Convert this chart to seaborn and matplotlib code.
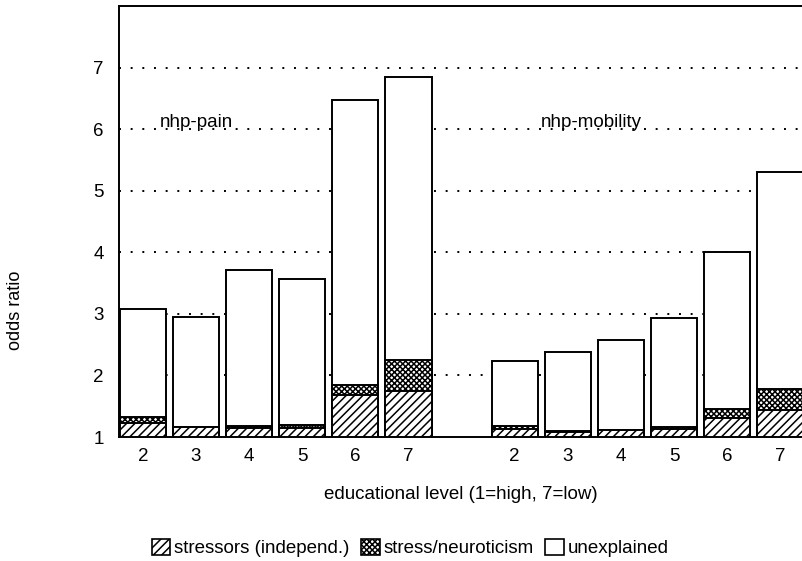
import matplotlib
matplotlib.use("Agg")
import matplotlib.pyplot as plt
import seaborn as sns
import pandas as pd
from matplotlib.patches import Patch

# ---- data ----
edu_levels = [2, 3, 4, 5, 6, 7]
groups = ["nhp-pain", "nhp-mobility"]
# cumulative tops of the stacked segments (odds ratio scale, base = 1)
pain_total = [3.08, 2.95, 3.72, 3.57, 6.48, 6.85]
pain_neuro_top = [1.33, 1.16, 1.18, 1.19, 1.85, 2.25]
pain_stressors_top = [1.23, 1.16, 1.15, 1.15, 1.68, 1.75]
mob_total = [2.24, 2.38, 2.58, 2.93, 4.00, 5.31]
mob_neuro_top = [1.18, 1.09, 1.12, 1.17, 1.46, 1.78]
mob_stressors_top = [1.13, 1.08, 1.11, 1.13, 1.31, 1.44]
y_ticks = [1, 2, 3, 4, 5, 6, 7]
legend_labels = ["stressors (independ.)", "stress/neuroticism", "unexplained"]

rows = []
for gi, (tot, neu, strs) in enumerate([(pain_total, pain_neuro_top, pain_stressors_top),
                                        (mob_total, mob_neuro_top, mob_stressors_top)]):
    for k, e in enumerate(edu_levels):
        rows.append(dict(group=groups[gi], edu=e, pos=k + gi * (len(edu_levels) + 1),
                         total=tot[k], neuro=neu[k], stressors=strs[k]))
df = pd.DataFrame(rows)

sns.set_theme(style="white")
plt.rcParams["font.family"] = ["Liberation Sans", "DejaVu Sans"]
plt.rcParams["hatch.linewidth"] = 1.1
plt.rcParams["text.color"] = "black"
plt.rcParams["axes.labelcolor"] = "black"
plt.rcParams["xtick.color"] = "black"
plt.rcParams["ytick.color"] = "black"

W, H = 802, 561
fig = plt.figure(figsize=(W / 100, H / 100), dpi=100)
ax = fig.add_axes([119 / W, 1 - 437 / H, 1 - 119 / W, (437 - 6) / H])

# dotted gridlines behind bars
for v in y_ticks[1:]:
    ax.axhline(v, color="black", lw=1.4, ls=(0, (1, 5)), zorder=0.5)

bar_kw = dict(native_scale=True, width=0.87, edgecolor="black", linewidth=1.4,
              errorbar=None, ax=ax, zorder=2)
sns.barplot(data=df, x="pos", y="total", color="white", **bar_kw)
sns.barplot(data=df, x="pos", y="neuro", color="white", hatch="xxxxxx", **bar_kw)
sns.barplot(data=df, x="pos", y="stressors", color="white", hatch="////", **bar_kw)

ax.set_xlim(-0.45, 12.41)
ax.set_ylim(1.0, 8.0)
ax.set_xticks(df["pos"])
ax.set_xticklabels([str(e) for e in df["edu"]], fontsize=13.5)
ax.set_yticks(y_ticks)
ax.set_yticklabels([str(v) for v in y_ticks], fontsize=13.5)
ax.tick_params(axis="both", length=0, colors="black")
ax.tick_params(axis="y", pad=11)
ax.tick_params(axis="x", pad=8)
ax.set_ylabel("")
ax.set_xlabel("educational level (1=high, 7=low)", fontsize=13.5, labelpad=15,
              color="black")

for s in ["left", "bottom", "top"]:
    ax.spines[s].set_visible(True)
    ax.spines[s].set_color("black")
    ax.spines[s].set_linewidth(1.4)
ax.spines["right"].set_visible(False)

ax.text(0.32, 6.11, groups[0], fontsize=13.5, va="center", ha="left", zorder=3,
        color="black")
ax.text(7.49, 6.11, groups[1], fontsize=13.5, va="center", ha="left", zorder=3,
        color="black")

fig.text(15 / W, 1 - 310 / H, "odds ratio", rotation=90, fontsize=13,
         ha="center", va="center", color="black")

handles = [Patch(facecolor="white", edgecolor="black", hatch="////", lw=1.2),
           Patch(facecolor="white", edgecolor="black", hatch="xxxxxx", lw=1.2),
           Patch(facecolor="white", edgecolor="black", lw=1.2)]
leg = fig.legend(handles, legend_labels, loc="center",
                 bbox_to_anchor=(410 / W, 1 - 548 / H),
                 ncol=3, frameon=False, fontsize=13.5, handlelength=1.0,
                 handleheight=1.0, handletextpad=0.2, columnspacing=0.6)
for t in leg.get_texts():
    t.set_color("black")

fig.savefig("out.png", dpi=100)
